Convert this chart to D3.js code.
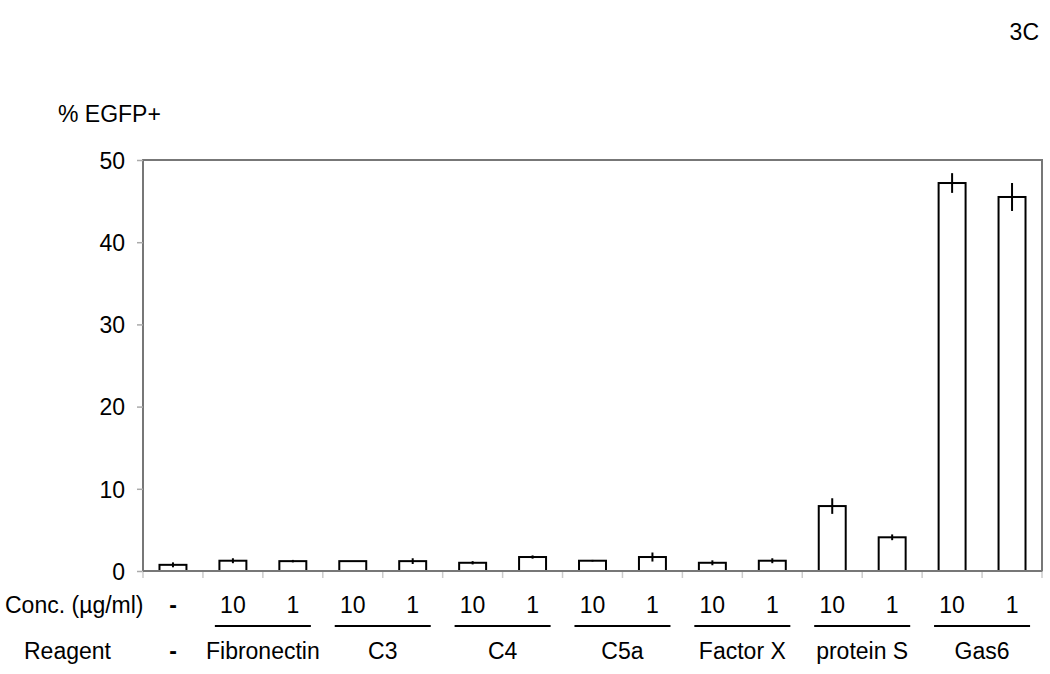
<!DOCTYPE html>
<html>
<head>
<meta charset="utf-8">
<script src="https://cdn.jsdelivr.net/npm/d3@7"></script>
<style>
  body { margin: 0; background: #fff; }
  text { font-family: "Liberation Sans", Arial, sans-serif; fill: #000; }
</style>
</head>
<body>
<svg id="chart" width="1050" height="674"></svg>
<script>
// data
var reagents = ["-", "Fibronectin", "C3", "C4", "C5a", "Factor X", "protein S", "Gas6"];
var concs = ["-", "10", "1", "10", "1", "10", "1", "10", "1", "10", "1", "10", "1", "10", "1"];
var groupOf = [0, 1, 1, 2, 2, 3, 3, 4, 4, 5, 5, 6, 6, 7, 7];
var values = [0.75, 1.25, 1.2, 1.2, 1.2, 1.0, 1.7, 1.25, 1.7, 1.0, 1.25, 7.9, 4.1, 47.2, 45.5];
var errors = [0.3, 0.3, 0.15, 0, 0.35, 0.2, 0.2, 0.1, 0.55, 0.3, 0.3, 0.95, 0.35, 1.2, 1.7];
var yTicks = [0, 10, 20, 30, 40, 50];

var margin = {top: 160, right: 8, bottom: 103, left: 143},
    width = 1050 - margin.left - margin.right,
    height = 674 - margin.top - margin.bottom,
    fontSize = "23px";

var svg = d3.select("#chart");
var g = svg.append("g").attr("transform", "translate(" + margin.left + "," + margin.top + ")");

var x = d3.scaleBand().domain(d3.range(values.length)).range([0, width]).paddingInner(0).paddingOuter(0);
var y = d3.scaleLinear().domain([0, 50]).range([height, 0]);
var bw = x.bandwidth() * 0.45;

// plot frame
g.append("rect")
  .attr("x", 0).attr("y", 0)
  .attr("width", width).attr("height", height)
  .attr("fill", "none").attr("stroke", "#777").attr("stroke-width", 2);

// y axis
var yAxis = g.append("g").call(d3.axisLeft(y).tickValues(yTicks).tickSize(6).tickPadding(12));
yAxis.select(".domain").remove();
yAxis.selectAll("line").attr("stroke", "#aaa").attr("stroke-width", 1.5);
yAxis.selectAll("text")
  .attr("dy", "0.36em")
  .style("font-size", fontSize)
  .style("font-family", "Liberation Sans, Arial, sans-serif");

// category ticks under the axis
g.selectAll(".ctick")
  .data(d3.range(values.length + 1))
  .enter().append("line")
  .attr("x1", function (d) { return d * x.step(); })
  .attr("x2", function (d) { return d * x.step(); })
  .attr("y1", height).attr("y2", height + 7)
  .attr("stroke", "#ccc").attr("stroke-width", 1.5);

// bars
g.selectAll(".bar")
  .data(values)
  .enter().append("rect")
  .attr("x", function (d, i) { return x(i) + (x.bandwidth() - bw) / 2; })
  .attr("y", function (d) { return y(d); })
  .attr("width", bw)
  .attr("height", function (d) { return height - y(d); })
  .attr("fill", "#fff").attr("stroke", "#000").attr("stroke-width", 2);

// error bars
g.selectAll(".err")
  .data(values)
  .enter().append("line")
  .attr("x1", function (d, i) { return x(i) + x.bandwidth() / 2; })
  .attr("x2", function (d, i) { return x(i) + x.bandwidth() / 2; })
  .attr("y1", function (d, i) { return y(d + errors[i]); })
  .attr("y2", function (d, i) { return y(d - errors[i]); })
  .attr("stroke", "#000").attr("stroke-width", 2);

// bottom axis line
g.append("line")
  .attr("x1", 0).attr("x2", width)
  .attr("y1", height).attr("y2", height)
  .attr("stroke", "#777").attr("stroke-width", 2);

// concentration row
var concBase = 613, reagBase = 659;
g.selectAll(".conc")
  .data(concs)
  .enter().append("text")
  .attr("x", function (d, i) { return x(i) + x.bandwidth() / 2; })
  .attr("y", concBase - margin.top)
  .attr("text-anchor", "middle")
  .style("font-size", fontSize)
  .style("font-weight", function (d) { return d === "-" ? "bold" : "normal"; })
  .text(function (d) { return d; });

svg.append("text")
  .attr("x", 5).attr("y", concBase)
  .style("font-size", fontSize)
  .text("Conc. (\u00b5g/ml)");

// reagent row with group underlines
var groups = reagents.map(function (r, k) {
  var idx = d3.range(groupOf.length).filter(function (i) { return groupOf[i] === k; });
  var x0 = x(idx[0]), x1 = x(idx[idx.length - 1]) + x.bandwidth();
  return {name: r, x0: x0, x1: x1, mid: (x0 + x1) / 2, n: idx.length};
});

g.selectAll(".gline")
  .data(groups.filter(function (d) { return d.n > 1; }))
  .enter().append("line")
  .attr("x1", function (d) { return d.mid - 48; })
  .attr("x2", function (d) { return d.mid + 48; })
  .attr("y1", 626 - margin.top).attr("y2", 626 - margin.top)
  .attr("stroke", "#000").attr("stroke-width", 2);

g.selectAll(".reag")
  .data(groups)
  .enter().append("text")
  .attr("x", function (d) { return d.mid; })
  .attr("y", reagBase - margin.top)
  .attr("text-anchor", "middle")
  .style("font-size", fontSize)
  .style("font-weight", function (d) { return d.name === "-" ? "bold" : "normal"; })
  .text(function (d) { return d.name; });

svg.append("text")
  .attr("x", 24).attr("y", reagBase)
  .style("font-size", fontSize)
  .text("Reagent");

// titles
svg.append("text")
  .attr("x", 58).attr("y", 122)
  .style("font-size", fontSize)
  .text("% EGFP+");

svg.append("text")
  .attr("x", 1039).attr("y", 40)
  .attr("text-anchor", "end")
  .style("font-size", fontSize)
  .text("3C");
</script>
</body>
</html>
